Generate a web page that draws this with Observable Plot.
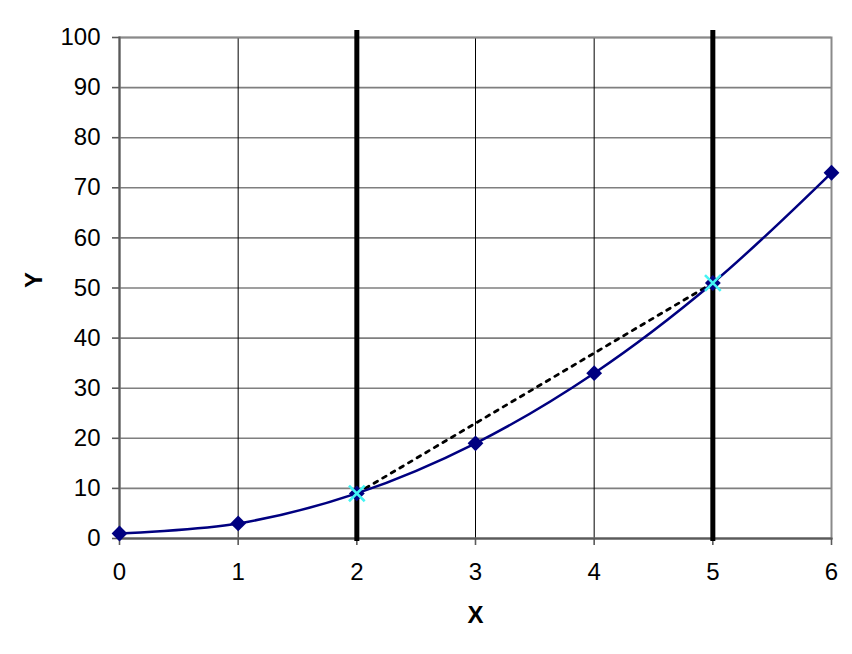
<!DOCTYPE html>
<html>
<head>
<meta charset="utf-8">
<script src="https://cdn.jsdelivr.net/npm/d3@7"></script>
<script src="https://cdn.jsdelivr.net/npm/@observablehq/plot@0.6"></script>
<style>
  html, body { margin: 0; padding: 0; background: #fff; }
  #chart { width: 852px; height: 654px; }
</style>
</head>
<body>
<div id="chart"></div>
<script>
const xValues = [0, 1, 2, 3, 4, 5, 6];
const yValues = [1, 3, 9, 19, 33, 51, 73];
const markedX = [2, 5];
const markedY = [9, 51];
const xTicks = [0, 1, 2, 3, 4, 5, 6];
const yTicks = [0, 10, 20, 30, 40, 50, 60, 70, 80, 90, 100];
const thinGridX = [1, 3, 4];
const xLabel = "X";
const yLabel = "Y";

const points = xValues.map((x, i) => ({x, y: yValues[i]}));
const marked = markedX.map((x, i) => ({x, y: markedY[i]}));

const font = "'Liberation Sans', Arial, Helvetica, sans-serif";

const chart = Plot.plot({
  width: 852,
  height: 654,
  marginLeft: 119,
  marginRight: 21,
  marginTop: 37,
  marginBottom: 116,
  style: {fontFamily: font, background: "#fff", color: "#000"},
  x: {domain: [0, 6]},
  y: {domain: [0, 100]},
  marks: [
    Plot.gridY(yTicks, {stroke: "#7f7f7f", strokeOpacity: 1, strokeWidth: 1.6}),
    Plot.ruleX(thinGridX, {stroke: "#000", strokeWidth: 1}),
    Plot.frame({stroke: "#8a8a8a", strokeWidth: 2}),
    Plot.frame({anchor: "left", stroke: "#5a5a5a", strokeWidth: 2}),
    Plot.frame({anchor: "bottom", stroke: "#5a5a5a", strokeWidth: 2}),
    Plot.axisY({ticks: yTicks, tickSize: 7, tickPadding: 12, fontSize: 24, stroke: "#5a5a5a", strokeWidth: 1.6, label: null, tickFormat: d => String(d)}),
    Plot.axisX({ticks: xTicks, tickSize: 7, tickPadding: 17, fontSize: 24, stroke: "#5a5a5a", strokeWidth: 1.6, label: null, tickFormat: d => String(d)}),
    Plot.ruleX(markedX, {stroke: "#000", strokeWidth: 5, insetTop: -7, insetBottom: -3}),
    Plot.line(marked, {x: "x", y: "y", stroke: "#000", strokeWidth: 2.8, strokeDasharray: "4,6"}),
    Plot.line(points, {x: "x", y: "y", stroke: "#000080", strokeWidth: 2.5, curve: "catmull-rom"}),
    Plot.dot(points, {x: "x", y: "y", symbol: "square", rotate: 45, r: 6.3, fill: "#000080", stroke: "none"}),
    Plot.dot(marked, {x: "x", y: "y", symbol: "times", r: 7.2, stroke: "#44f4f4", strokeWidth: 2.6}),
    Plot.text([xLabel], {text: d => d, frameAnchor: "bottom", dy: 84, lineAnchor: "bottom", fontSize: 24, fontWeight: "bold", fill: "#000"}),
    Plot.text([yLabel], {text: d => d, frameAnchor: "left", dx: -85, rotate: -90, lineAnchor: "middle", fontSize: 24, fontWeight: "bold", fill: "#000"})
  ]
});
document.getElementById("chart").appendChild(chart);
</script>
</body>
</html>
